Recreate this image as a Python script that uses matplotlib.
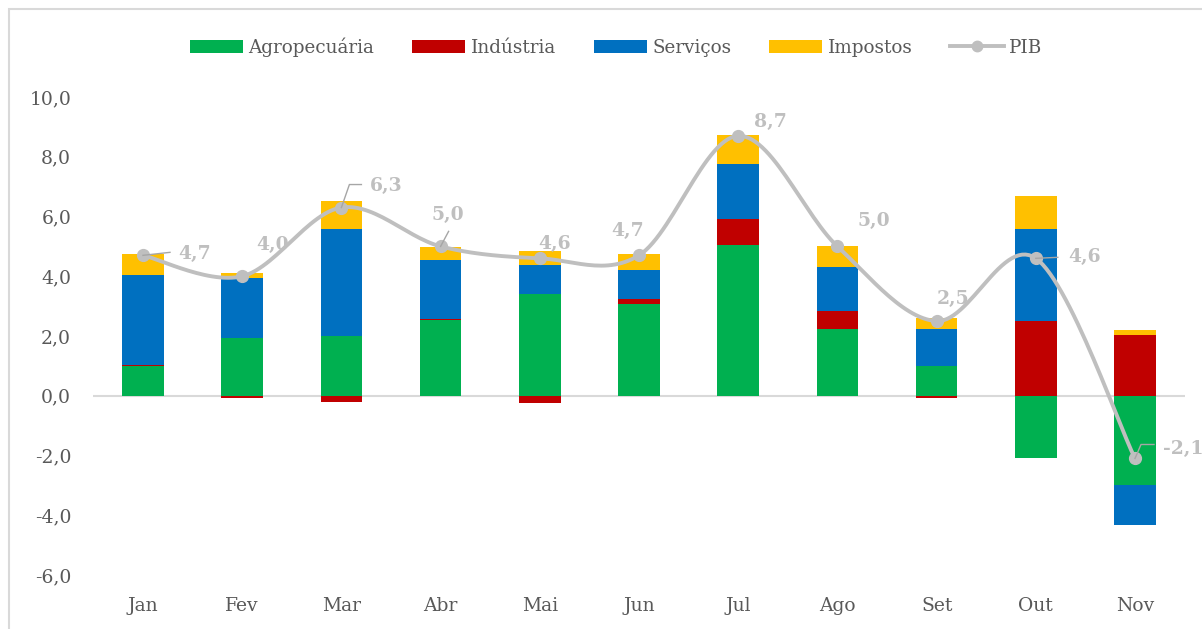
import numpy as np
import matplotlib
matplotlib.use("Agg")
import matplotlib.pyplot as plt
from matplotlib.patches import Rectangle, Patch
from matplotlib.lines import Line2D

plt.rcParams['font.family'] = ['DejaVu Serif']

months = ["Jan", "Fev", "Mar", "Abr", "Mai", "Jun", "Jul", "Ago", "Set", "Out", "Nov"]
agro = [0.98, 1.93, 1.99, 2.52, 3.39, 3.08, 5.06, 2.22, 0.98, -2.08, -3.00]
ind = [0.05, -0.08, -0.20, 0.06, -0.24, 0.16, 0.87, 0.62, -0.06, 2.50, 2.03]
serv = [3.00, 2.00, 3.59, 1.98, 0.99, 0.96, 1.84, 1.48, 1.24, 3.08, -1.34]
imp = [0.70, 0.18, 0.95, 0.43, 0.45, 0.56, 0.97, 0.70, 0.39, 1.09, 0.16]
pib = [4.7, 4.0, 6.3, 5.0, 4.6, 4.7, 8.7, 5.0, 2.5, 4.6, -2.1]
series_names = ["Agropecuária", "Indústria", "Serviços", "Impostos"]
yticks = [-6, -4, -2, 0, 2, 4, 6, 8, 10]

colors = ["#00B050", "#C00000", "#0070C0", "#FFC000"]
line_color = "#BFBFBF"
text_color = "#595959"

W, H = 1202, 629
fig = plt.figure(figsize=(W / 100, H / 100), dpi=100)
ax = fig.add_axes([93.4 / W, 1 - 575 / H, (1184.6 - 93.4) / W, (575 - 97) / H])

x = np.arange(len(months))
pos_bottom = np.zeros(len(months))
neg_bottom = np.zeros(len(months))
for vals, c in zip([agro, ind, serv, imp], colors):
    v = np.array(vals)
    bottom = np.where(v >= 0, pos_bottom, neg_bottom)
    ax.bar(x, v, 0.42, bottom=bottom, color=c, zorder=2)
    pos_bottom = pos_bottom + np.where(v >= 0, v, 0)
    neg_bottom = neg_bottom + np.where(v < 0, v, 0)

ax.set_xlim(-0.5, len(months) - 0.5)
ax.set_ylim(-6, 10)
ax.axhline(0, color="#D9D9D9", lw=1.5, zorder=1)

# Smoothed line (Excel-style Bezier through the points)
px = x.astype(float)
py = np.array(pib, dtype=float)
P = np.column_stack([px, py])
Pe = np.vstack([P[0], P, P[-1]])
curve = []
t = np.linspace(0, 1, 30)[:, None]
for i in range(len(P) - 1):
    p0, p1, p2, p3 = Pe[i], Pe[i + 1], Pe[i + 2], Pe[i + 3]
    c1 = p1 + (p2 - p0) / 6
    c2 = p2 - (p3 - p1) / 6
    seg = ((1 - t) ** 3) * p1 + 3 * ((1 - t) ** 2) * t * c1 + 3 * (1 - t) * t ** 2 * c2 + t ** 3 * p2
    curve.append(seg)
curve = np.vstack(curve)
ax.plot(curve[:, 0], curve[:, 1], color=line_color, lw=2.8, zorder=3, solid_capstyle="round")
ax.plot(px, py, 'o', color=line_color, ms=8.5, zorder=4)

# Data labels (offsets in pixels) and leader lines
label_offsets = [(35, 1, 'left'), (30, 31, 'center'), (28, 22, 'left'), (7, 31, 'center'),
                 (15, 14, 'center'), (-11, 24, 'center'), (32, 14, 'center'), (36, 25, 'center'),
                 (16, 22, 'center'), (32, 1, 'left'), (28, 10, 'left')]
leaders = {0: [(0, 0), (27, 3)], 2: [(0, 0), (8, 23), (20, 23)], 3: [(0, 0), (8, 15)],
           9: [(0, 0), (22, 1)], 10: [(0, 0), (6, 14), (19, 14)]}
for i, v in enumerate(pib):
    dx, dy, ha = label_offsets[i]
    lbl = f"{v:.1f}".replace(".", ",")
    ax.annotate(lbl, xy=(i, v), xytext=(dx, dy), textcoords="offset pixels",
                ha=ha, va="center", fontsize=13.5, fontweight="bold", color=line_color,
                zorder=6, annotation_clip=False)
    if i in leaders:
        p = ax.transData.transform((i, v))
        pts = np.array(leaders[i], dtype=float) + p
        d = ax.transData.inverted().transform(pts)
        ax.plot(d[:, 0], d[:, 1], color="#A6A6A6", lw=1.0, zorder=5, clip_on=False)

ax.set_xticks(x)
ax.set_xticklabels(months)
ax.set_yticks(yticks)
ax.set_yticklabels([f"{v:.1f}".replace(".", ",") for v in yticks])
ax.tick_params(axis='both', length=0, labelsize=13.5, colors=text_color)
ax.tick_params(axis='x', pad=16)
ax.tick_params(axis='y', pad=16)
for lab in ax.get_yticklabels():
    lab.set_horizontalalignment('right')
for s in ax.spines.values():
    s.set_visible(False)

handles = [Patch(facecolor=c) for c in colors]
handles.append(Line2D([0], [0], color=line_color, lw=2.8, marker='o', ms=7.5))
leg = fig.legend(handles, series_names + ["PIB"], loc="center", bbox_to_anchor=(616 / W, 1 - 47 / H),
                 ncol=5, frameon=False, fontsize=13.2, handlelength=2.9, handleheight=0.71,
                 handletextpad=0.31, columnspacing=2.05, labelcolor=text_color)

# outer frame
fig.patches.append(Rectangle((9 / W, -0.1), 1.2, 1 - 9 / H + 0.1, transform=fig.transFigure,
                             fill=False, edgecolor="#D9D9D9", lw=1.5))

fig.savefig("out.png", dpi=100)
